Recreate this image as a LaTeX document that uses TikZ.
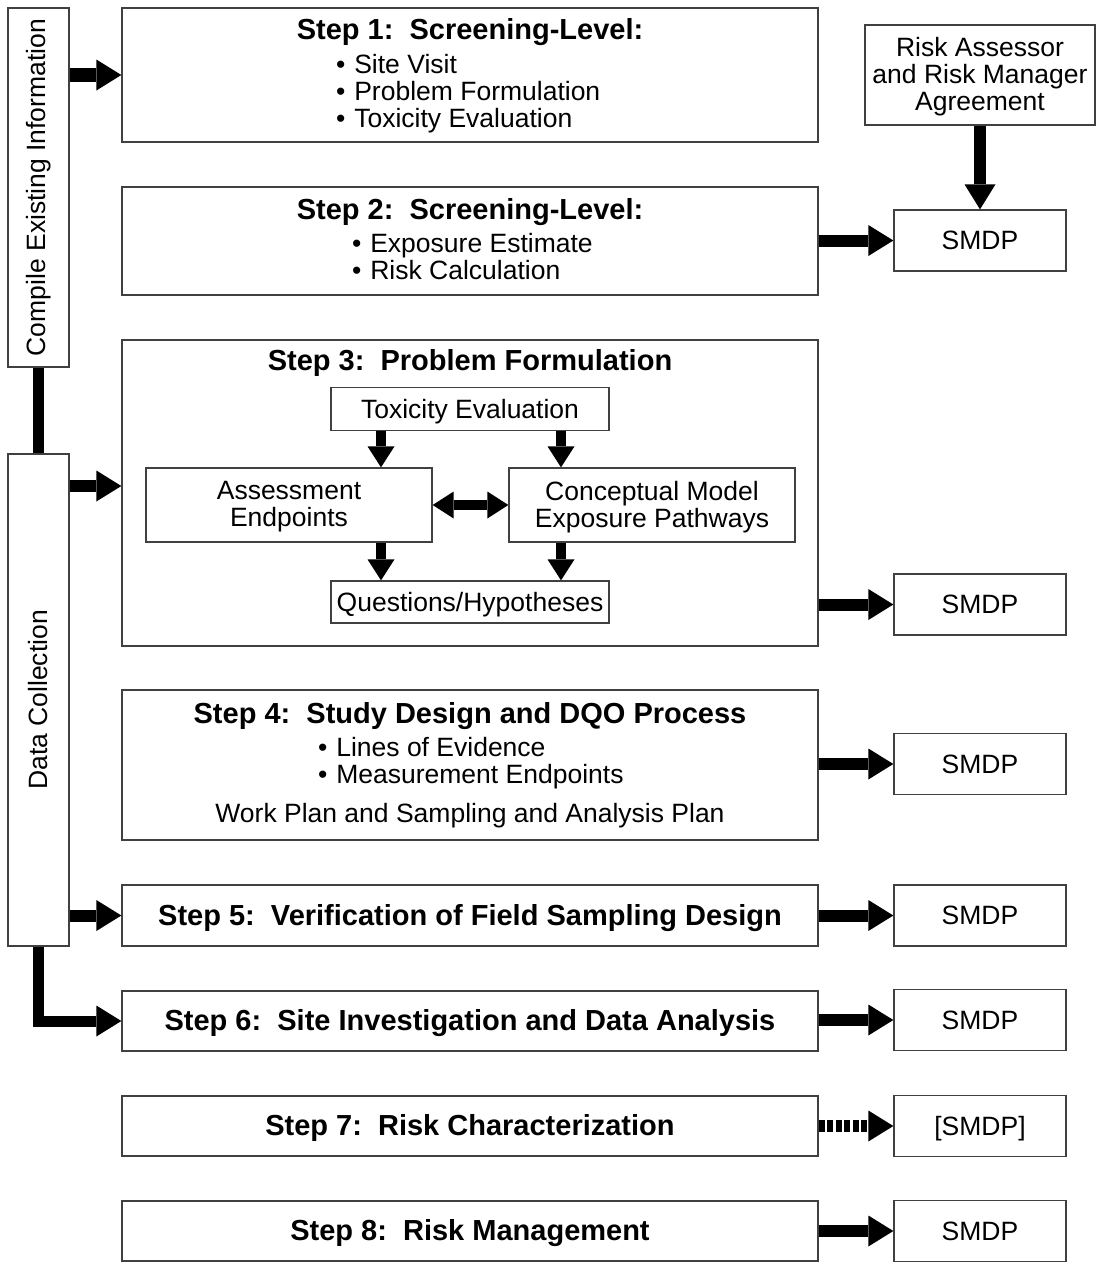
\documentclass[tikz,border=0pt]{standalone}
\usepackage{fontspec}
\setmainfont{Liberation Sans}
\usetikzlibrary{arrows.meta}
\begin{document}
\begin{tikzpicture}[x=1pt,y=-1pt,
  box/.style={draw=black!75, line width=1.3pt, fill=white, inner sep=0pt, align=center,
              font=\fontsize{26.5}{27}\selectfont},
  onebox/.style={box, text depth=0pt},
  stepbox/.style={box, minimum width=696pt},
  smdp/.style={onebox, minimum width=172pt, minimum height=61pt},
  txt/.style={font=\fontsize{26.5}{27}\selectfont, inner sep=0pt},
  ttl/.style={font=\fontsize{29}{32}\selectfont\bfseries, inner sep=0pt, anchor=base},
  bul/.style={txt, anchor=base west},
  bigarrow/.style={line width=12pt, line join=miter, -{Triangle[width=31pt,length=25pt,line width=0pt]}},
  bigline/.style={line width=11pt},
  smallarrow/.style={line width=10pt, -{Triangle[width=27pt,length=21pt,line width=0pt]}},
  dblarrow/.style={line width=10pt, {Triangle[width=27pt,length=21pt,line width=0pt]}-{Triangle[width=27pt,length=21pt,line width=0pt]}}
]
\useasboundingbox (0,0) rectangle (1096,1262);

% left column
\node[box, minimum width=61pt, minimum height=359pt] (comp) at (38.5,187.5) {};
\node[txt, rotate=90] (compt) at (comp.center) {Compile Existing Information};
\node[box, minimum width=61pt, minimum height=492pt] (dc) at (38.5,700) {};
\node[txt, rotate=90] (dct) at (dc.center) {Data Collection};

% step boxes
\node[stepbox, minimum height=134pt] (s1) at (470,75) {};
\node[stepbox, minimum height=108pt] (s2) at (470,241) {};
\node[stepbox, minimum height=306pt] (s3) at (470,493) {};
\node[stepbox, minimum height=150pt] (s4) at (470,765) {};
\node[stepbox, minimum height=61pt] (s5) at (470,915.5) {};
\node[stepbox, minimum height=60pt] (s6) at (470,1021) {};
\node[stepbox, minimum height=60pt] (s7) at (470,1126) {};
\node[stepbox, minimum height=60pt] (s8) at (470,1231) {};

% step texts
\node[ttl] (t1) at (470,39) {Step 1:\ \ Screening-Level:};
\node[bul] (b11) at (336,73) {•\,\,Site Visit};
\node[bul] (b12) at (336,100) {•\,\,Problem Formulation};
\node[bul] (b13) at (336,127) {•\,\,Toxicity Evaluation};

\node[ttl] (t2) at (470,219) {Step 2:\ \ Screening-Level:};
\node[bul] (b21) at (352,252) {•\,\,Exposure Estimate};
\node[bul] (b22) at (352,279) {•\,\,Risk Calculation};

\node[ttl] (t3) at (470,370) {Step 3:\ \ Problem Formulation};

\node[ttl] (t4) at (470,723) {Step 4:\ \ Study Design and DQO Process};
\node[bul] (b41) at (318,756) {•\,\,Lines of Evidence};
\node[bul] (b42) at (318,783) {•\,\,Measurement Endpoints};
\node[txt, anchor=base] (b43) at (470,822) {Work Plan and Sampling and Analysis Plan};

\node[ttl] (t5) at (470,925) {Step 5:\ \ Verification of Field Sampling Design};
\node[ttl] (t6) at (470,1030) {Step 6:\ \ Site Investigation and Data Analysis};
\node[ttl] (t7) at (470,1135) {Step 7:\ \ Risk Characterization};
\node[ttl] (t8) at (470,1240) {Step 8:\ \ Risk Management};

% step 3 inner boxes
\node[onebox, minimum width=278pt, minimum height=43pt] (tox) at (470,409) {Toxicity Evaluation};
\node[box, minimum width=286pt, minimum height=74pt] (ae) at (289,505) {};
\node[txt, align=center] (aet) at ([yshift=-2pt]ae.center) {Assessment\\Endpoints};
\node[box, minimum width=286pt, minimum height=74pt] (cm) at (652,505) {};
\node[txt, align=center] (cmt) at ([yshift=-2pt]cm.center) {Conceptual Model\\Exposure Pathways};
\node[onebox, minimum width=278pt, minimum height=42pt] (qh) at (470,602) {Questions/Hypotheses};

% right column
\node[box, minimum width=230pt, minimum height=100pt] (risk) at (980,75) {};
\node[txt, align=center] (riskt) at ([yshift=-2pt]risk.center) {Risk Assessor\\and Risk Manager\\Agreement};
\node[smdp] (m2) at (980,240.5) {SMDP};
\node[smdp] (m3) at (980,604.5) {SMDP};
\node[smdp] (m4) at (980,764) {SMDP};
\node[smdp] (m5) at (980,915.5) {SMDP};
\node[smdp] (m6) at (980,1020) {SMDP};
\node[smdp] (m7) at (980,1126) {[SMDP]};
\node[smdp] (m8) at (980,1231) {SMDP};

% helper coordinates
\coordinate (dcy) at (0,486);
\coordinate (c1) at (381,0);
\coordinate (c2) at (561,0);

% left connectors
\draw[bigline] (comp.south) -- (dc.north);
\draw[bigarrow, line width=14pt] (comp.east |- s1.west) -- (s1.west);
\draw[bigarrow] (dc.east |- dcy) -- (s3.west |- dcy);
\draw[bigarrow] (dc.east |- s5.west) -- (s5.west);
\draw[bigarrow, line width=11pt] (dc.south) |- (s6.west);

% right connectors
\draw[bigarrow] (risk.south) -- (m2.north);
\draw[bigarrow] (s2.east |- m2.west) -- (m2.west);
\draw[bigarrow] (s3.east |- m3.west) -- (m3.west);
\draw[bigarrow] (s4.east |- m4.west) -- (m4.west);
\draw[bigarrow] (s5.east |- m5.west) -- (m5.west);
\draw[bigarrow] (s6.east |- m6.west) -- (m6.west);
\draw[bigarrow, dash pattern=on 6pt off 2.5pt] (s7.east |- m7.west) -- (m7.west);
\draw[bigarrow] (s8.east |- m8.west) -- (m8.west);

% step 3 inner connectors
\draw[smallarrow] (tox.south -| c1) -- (ae.north -| c1);
\draw[smallarrow] (tox.south -| c2) -- (cm.north -| c2);
\draw[smallarrow] (ae.south -| c1) -- (qh.north -| c1);
\draw[smallarrow] (cm.south -| c2) -- (qh.north -| c2);
\draw[dblarrow] (ae.east) -- (cm.west);
\end{tikzpicture}
\end{document}
